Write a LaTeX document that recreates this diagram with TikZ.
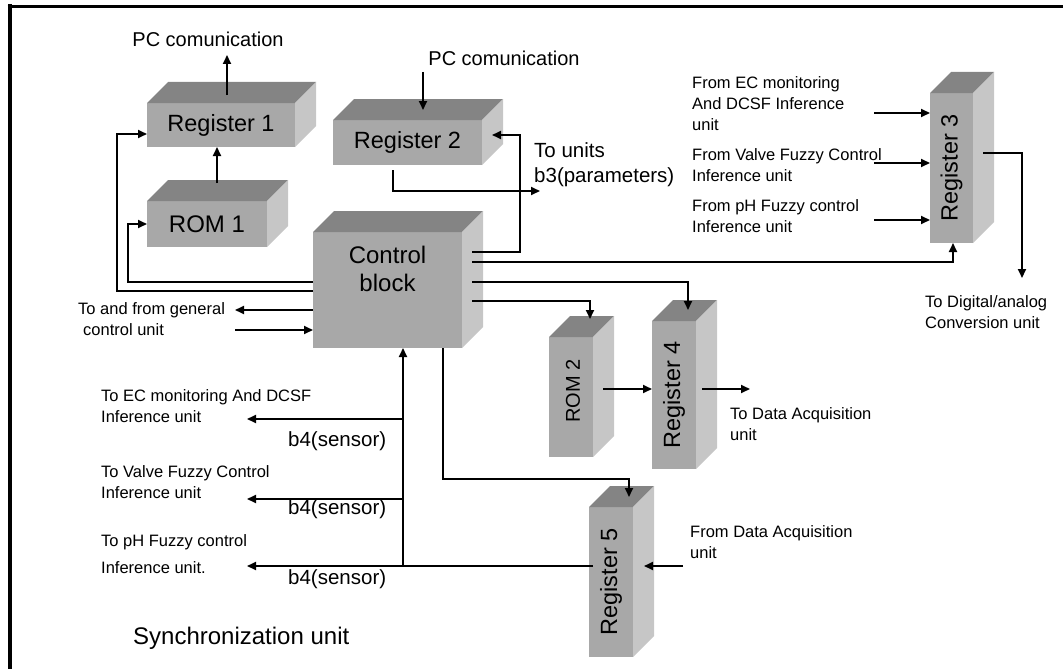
\documentclass[tikz,border=0pt]{standalone}
\usepackage{fontspec}
\setmainfont{Liberation Sans}
\usetikzlibrary{arrows.meta,calc}
\definecolor{frontc}{RGB}{168,168,168}
\definecolor{topc}{RGB}{132,132,132}
\definecolor{sidec}{RGB}{198,198,198}
\newcommand{\depthfaces}[1]{%
  \fill[topc] (#1.north west) -- ++(21,-21) -- ($(#1.north east)+(21,-21)$) -- (#1.north east) -- cycle;
  \fill[sidec] (#1.north east) -- ++(21,-21) -- ($(#1.south east)+(21,-21)$) -- (#1.south east) -- cycle;}
\begin{document}
\begin{tikzpicture}[x=1pt,y=-1pt,
  face/.style={fill=frontc, inner sep=0, outer sep=0},
  boxlbl/.style={inner sep=0, font=\fontsize{23.5}{26}\selectfont},
  lbl/.style={inner sep=0, font=\fontsize{16.5}{21}\selectfont, align=left},
  biglbl/.style={inner sep=0, font=\fontsize{20.5}{25}\selectfont, align=left},
  arr/.style={draw, line width=1.8pt, -{Triangle[length=9pt,width=8pt]}},
  wire/.style={draw, line width=1.8pt}]
\useasboundingbox (0,0) rectangle (1063,669);
% frame
\draw[line width=4pt] (9.5,4.5) -- (9.5,669);
\draw[line width=3pt] (7.5,6.5) -- (1063,6.5);

% boxes (front faces)
\node[face, minimum width=148pt, minimum height=44pt] (r1) at (221,125) {};
\node[face, minimum width=120pt, minimum height=46pt] (rom1) at (207,224) {};
\node[face, minimum width=149pt, minimum height=45pt] (r2) at (407.5,142.5) {};
\node[face, minimum width=149pt, minimum height=116pt] (ctrl) at (387.5,290) {};
\node[face, minimum width=43pt, minimum height=150pt] (r3) at (951.5,168) {};
\node[face, minimum width=44pt, minimum height=120pt] (rom2) at (571,397) {};
\node[face, minimum width=44pt, minimum height=148pt] (r4) at (674,395) {};
\node[face, minimum width=44pt, minimum height=150pt] (r5) at (611,582) {};
\foreach \b in {r1,rom1,r2,ctrl,r3,rom2,r4,r5}{\depthfaces{\b}}

% box labels
\node[boxlbl] (r1l) at (r1.center) {Register 1};
\node[boxlbl, font=\fontsize{24}{26}\selectfont] (rom1l) at (rom1.center) {ROM 1};
\node[boxlbl] (r2l) at (r2.center) {Register 2};
\node[boxlbl, font=\fontsize{24}{28}\selectfont, align=center] (ctrll) at ($(ctrl.center)+(0,-21)$) {Control\\block};
\node[boxlbl, rotate=90] (r3l) at (r3.center) {Register 3};
\node[boxlbl, rotate=90, font=\fontsize{20}{24}\selectfont] (rom2l) at ($(rom2.center)+(2,-6)$) {ROM 2};
\node[boxlbl, rotate=90] (r4l) at (r4.center) {Register 4};
\node[boxlbl, rotate=90] (r5l) at (r5.center) {Register 5};

% text labels
\node[biglbl, font=\fontsize{20}{24}\selectfont] (pc1) at (208,39) {PC comunication};
\node[biglbl, font=\fontsize{20}{24}\selectfont] (pc2) at (504,58) {PC comunication};
\node[biglbl, anchor=west] (units) at (534,164.5) {To units\\b3(parameters)};
\node[lbl, anchor=west] (gen1) at (78,310) {To and from general};
\node[lbl, anchor=west] (gen2) at (83,330) {control unit};
\node[lbl, anchor=west] (fec) at (692,104) {From EC monitoring\\And DCSF Inference\\unit};
\node[lbl, anchor=west] (fvalve) at (692,165.5) {From Valve Fuzzy Control\\Inference unit};
\node[lbl, anchor=west] (fph) at (692,216.5) {From pH Fuzzy control\\Inference unit};
\node[lbl, anchor=west] (dac) at (925,312.5) {To Digital/analog\\Conversion unit};
\node[lbl, anchor=west] (tdaq) at (730,424) {To Data Acquisition\\unit};
\node[lbl, anchor=west] (fdaq) at (690,542) {From Data Acquisition\\unit};
\node[lbl, anchor=west] (tec) at (101,406) {To EC monitoring And DCSF\\Inference unit};
\node[lbl, anchor=west] (tvalve) at (101,482) {To Valve Fuzzy Control\\Inference unit};
\node[lbl, anchor=west, font=\fontsize{16.5}{27}\selectfont] (tph) at (101,554.5) {To pH Fuzzy control\\Inference unit.};
\node[biglbl, anchor=west] (b4a) at (288,441) {b4(sensor)};
\node[biglbl, anchor=west] (b4b) at (288,509) {b4(sensor)};
\node[biglbl, anchor=west] (b4c) at (288,579) {b4(sensor)};
\node[inner sep=0, anchor=west, font=\fontsize{24}{28}\selectfont] (sync) at (133,638) {Synchronization unit};

% connectors
\draw[arr] ($(r1.north)+(6,-8)$) -- ($(r1.north)+(6,-48)$);
\draw[arr] ($(rom1.north)+(10,-18)$) coordinate (a1) -- (a1 |- r1.south);
\draw[arr] ($(ctrl.west)+(0,-8)$) -- ++(-185,0) |- (rom1.west);
\draw[arr] ($(ctrl.west)+(0,1)$) -- ++(-196,0) |- ($(r1.west)+(0,9)$);
\draw[arr] ($(ctrl.west)+(0,20)$) -- ++(-78,0);
\draw[arr] ($(ctrl.west)+(-78,40)$) -- ($(ctrl.west)+(0,40)$);
\draw[arr] ($(r2.north)+(15.5,-48)$) -- ($(r2.north)+(15.5,-10)$);
\draw[arr] ($(ctrl.east)+(10,-38)$) -- ++(48,0) |- ($(r2.east)+(10,-7.5)$);
\draw[arr] ($(r2.south)+(-14.5,5)$) -- ++(0,21) -- ++(147,0);
\draw[arr] ($(ctrl.east)+(10,-28)$) -| ($(r3.south)+(1.5,0)$);
\draw[arr] ($(ctrl.east)+(10,-8)$) -| ($(r4.north)+(14,-11)$);
\draw[arr] ($(ctrl.east)+(10,11)$) -| ($(rom2.north)+(19,-18)$);
\draw[arr] ($(rom2.east)+(10,-8)$) coordinate (a2) -- (a2 -| r4.west);
\draw[arr] ($(r4.east)+(6,-6)$) -- ++(48,0);
\draw[arr] ($(ctrl.south)+(55.5,0)$) -- ++(0,131) -| ($(r5.north)+(18,-10)$);
\draw[arr] ($(r5.east)+(50,-16)$) -- ($(r5.east)+(11,-16)$);
\draw[arr] ($(r5.west)+(4,-16)$) -- (247,566);
\draw[arr] (403,566) -- ($(ctrl.south)+(15.5,0)$);
\draw[arr] (403,419) -- (247,419);
\draw[arr] (403,499) -- (247,499);
\draw[arr] (874,113) -- (r3.west |- 0,113);
\draw[arr] (874,163) -- (r3.west |- 0,163);
\draw[arr] (874,220) -- (r3.west |- 0,220);
\draw[arr] ($(r3.east)+(10,-15)$) -- ++(39,0) -- ++(0,125);
\end{tikzpicture}
\end{document}
